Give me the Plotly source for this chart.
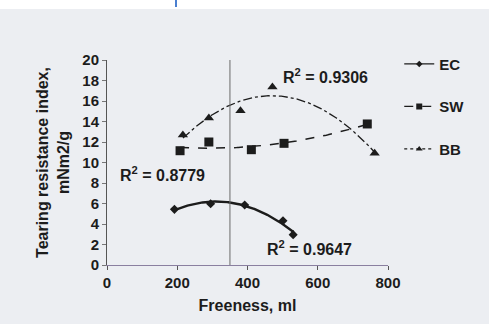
import numpy as np
import plotly.graph_objects as go

# Data
ec_x = [192, 295, 392, 501, 530]
ec_y = [5.43, 5.98, 5.85, 4.32, 2.96]
sw_x = [208, 290, 411, 504, 741]
sw_y = [11.15, 12.0, 11.25, 11.87, 13.76]
bb_x = [216, 290, 380, 471, 762]
bb_y = [12.68, 14.34, 15.05, 17.37, 10.9]
r2_labels = ["R<sup>2</sup> = 0.9647", "R<sup>2</sup> = 0.8779", "R<sup>2</sup> = 0.9306"]
freeness_marker = 350
x_ticks = [0, 200, 400, 600, 800]
y_ticks = list(range(0, 21, 2))

INK = "#1c1c1c"
FONT = "Liberation Sans, Arial, sans-serif"

fig = go.Figure()

def trend(xs, ys):
    c = np.polyfit(xs, ys, 2)
    xx = np.linspace(min(xs), max(xs), 120)
    return xx, np.polyval(c, xx)

series = [
    ("EC", ec_x, ec_y, "solid", "diamond", 7, 2.4),
    ("SW", sw_x, sw_y, "dash", "square", 9, 1.5),
    ("BB", bb_x, bb_y, "dashdot", "triangle-up", 9, 1.3),
]
for name, xs, ys, dash, sym, ms, lw in series:
    xx, yy = trend(xs, ys)
    fig.add_trace(go.Scatter(x=xx, y=yy, mode="lines", line=dict(color=INK, width=lw, dash=dash),
                             showlegend=False, hoverinfo="skip"))
    fig.add_trace(go.Scatter(x=xs, y=ys, mode="markers",
                             marker=dict(symbol=sym, size=ms, color=INK), showlegend=False))
    fig.add_trace(go.Scatter(x=[None], y=[None], mode="lines+markers", name="<b>" + name + "</b>",
                             legendgroup=name,
                             line=dict(color=INK, width=1.3,
                                       dash="solid" if dash == "solid" else ("dash" if dash == "dash" else "dot")),
                             marker=dict(symbol=sym, size=6 if sym != "diamond" else 5, color=INK)))

fig.add_shape(type="line", x0=freeness_marker, x1=freeness_marker, y0=0, y1=20,
              line=dict(color="#6a6a6a", width=1))
# white band at top of scan
fig.add_shape(type="rect", xref="paper", yref="paper", x0=-0.5, x1=1.5, y0=1.249, y1=1.4,
              fillcolor="white", line=dict(width=0), layer="below")
fig.add_shape(type="line", xref="paper", yref="paper", x0=(176 - 107) / 281, x1=(176 - 107) / 281,
              y0=1.259, y1=1.293, line=dict(color="#4a7fd0", width=2))

ann_pos = [(577, 1.66), (159, 8.9), (623, 18.4)]
for (ax, ay), txt in zip(ann_pos, r2_labels):
    fig.add_annotation(x=ax, y=ay, text="<b>" + txt + "</b>", showarrow=False,
                       font=dict(size=16, color=INK, family=FONT))

fig.update_layout(
    width=489, height=324,
    margin=dict(l=107, r=101, t=60, b=59, autoexpand=False),
    paper_bgcolor="#eceef2", plot_bgcolor="#eceef2",
    font=dict(family=FONT, color=INK, size=15),
    legend=dict(x=1.04, y=1.06, xanchor="left", yanchor="top", bgcolor="rgba(0,0,0,0)",
                tracegroupgap=20, font=dict(size=15, family=FONT, color=INK), itemwidth=30),
    showlegend=True,
)
fig.update_xaxes(range=[0, 800], tickvals=x_ticks, ticktext=["<b>%d</b>" % v for v in x_ticks],
                 showgrid=False, zeroline=False, showline=True, linecolor="#8a7fa0", linewidth=1,
                 ticks="outside", ticklen=4, tickcolor="#555",
                 tickfont=dict(size=15, family=FONT, color=INK),
                 title=dict(text="<b>Freeness, ml</b>", font=dict(size=16, family=FONT, color=INK), standoff=9))
fig.update_yaxes(range=[0, 20], tickvals=y_ticks, ticktext=["<b>%d</b>" % v for v in y_ticks],
                 showgrid=False, zeroline=False, showline=True, linecolor="#555", linewidth=1,
                 ticks="outside", ticklen=4, tickcolor="#777",
                 tickfont=dict(size=15, family=FONT, color=INK),
                 title=dict(text="<b>Tearing resistance index,<br>mNm2/g</b>",
                            font=dict(size=16, family=FONT, color=INK), standoff=8))

fig.write_html("out.html", config={"displayModeBar": False},
               post_script="document.body.style.margin='0';document.body.style.overflow='hidden';")
